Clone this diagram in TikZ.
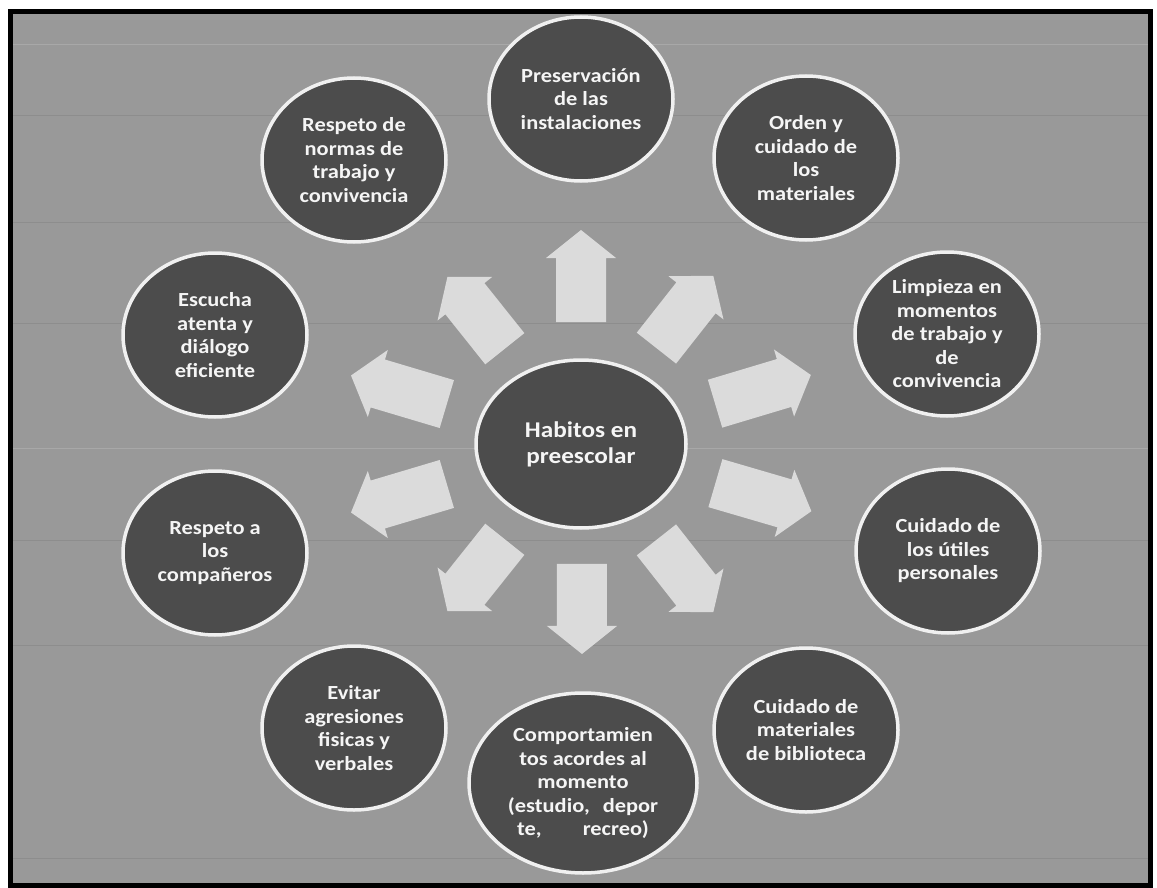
\documentclass[tikz,border=0pt]{standalone}
\usepackage{fontspec}
\setmainfont{Carlito}[FakeStretch=1.12]
\usetikzlibrary{shapes.geometric,calc}
\definecolor{bgc}{gray}{0.60}
\definecolor{darkc}{gray}{0.30}
\definecolor{ringc}{gray}{0.94}
\definecolor{txtc}{gray}{0.96}
\definecolor{arrc}{gray}{0.86}
\definecolor{gridd}{gray}{0.35}
\definecolor{gridl}{gray}{0.80}
\begin{document}
\begin{tikzpicture}[x=1pt,y=-1pt,
  bubble/.style={ellipse, draw=ringc, line width=3.5pt, fill=darkc, text=txtc,
    font=\bfseries\fontsize{20}{23.5}\selectfont, align=center, inner sep=0pt,
    minimum width=184pt, minimum height=164pt},
  hub/.style={bubble, minimum width=210pt, minimum height=168pt,
    font=\bfseries\fontsize{22.5}{26}\selectfont},
  pics/barrow/.style={code={
    \fill[arrc] ({-#1/2},-25) -- ({#1/2-28},-25) -- ({#1/2-28},-35) -- ({#1/2},0)
      -- ({#1/2-28},35) -- ({#1/2-28},25) -- ({-#1/2},25) -- cycle;}}]
\useasboundingbox (0,0) rectangle (1157,888);
\fill[white] (0,0) rectangle (1157,888);
\fill[bgc] (10,12) rectangle (1150,885);
% faint scan grid
\foreach \yy in {115,222,323,540,645,858}
  \draw[gridd, opacity=0.18, line width=0.8pt] (12,\yy) -- (1148,\yy);
\foreach \yy in {45,448}
  \draw[gridl, opacity=0.3, line width=1pt] (12,\yy) -- (1148,\yy);

% nodes
\node[hub] (c) at (581,444) {Habitos en\\preescolar};
\node[bubble] (n1) at (581,99) {Preservación\\de las\\instalaciones};
\node[bubble] (n2) at (806,158) {Orden y\\cuidado de\\los\\materiales};
\node[bubble] (n3) at (947,334) {Limpieza en\\momentos\\de trabajo y\\de\\convivencia};
\node[bubble] (n4) at (948,551) {Cuidado de\\los útiles\\personales};
\node[bubble] (n5) at (806,730) {Cuidado de\\materiales\\de biblioteca};
\node[bubble, minimum width=228pt, minimum height=180pt] (n6) at (583,783)
  {Comportamien\\tos acordes al\\momento\\(estudio,\hspace{13pt}depor\\te,\hspace{41pt}recreo)};
\node[bubble] (n7) at (354,728) {Evitar\\agresiones\\fisicas y\\verbales};
\node[bubble] (n8) at (215,553) {Respeto a\\los\\compañeros};
\node[bubble] (n9) at (215,335) {Escucha\\atenta y\\diálogo\\eficiente};
\node[bubble] (n10) at (354,160) {Respeto de\\normas de\\trabajo y\\convivencia};

% radiating block arrows
\pic[rotate=90] at ($(c)!168pt!(n1)$) {barrow=92};
\pic[rotate=51.8] at ($(c)!168pt!(n2)$) {barrow=92};
\pic[rotate=16.7] at ($(c)!190pt!(n3)$) {barrow=100};
\pic[rotate=-16.3] at ($(c)!190pt!(n4)$) {barrow=100};
\pic[rotate=-51.8] at ($(c)!168pt!(n5)$) {barrow=92};
\pic[rotate=-90] at ($(c)!165pt!(n6)$) {barrow=90};
\pic[rotate=-128.6] at ($(c)!168pt!(n7)$) {barrow=92};
\pic[rotate=-163.4] at ($(c)!190pt!(n8)$) {barrow=100};
\pic[rotate=163.4] at ($(c)!190pt!(n9)$) {barrow=100};
\pic[rotate=128.6] at ($(c)!168pt!(n10)$) {barrow=92};

% frame
\draw[black, line width=5pt] (10,12) rectangle (1150,885);
\end{tikzpicture}
\end{document}
